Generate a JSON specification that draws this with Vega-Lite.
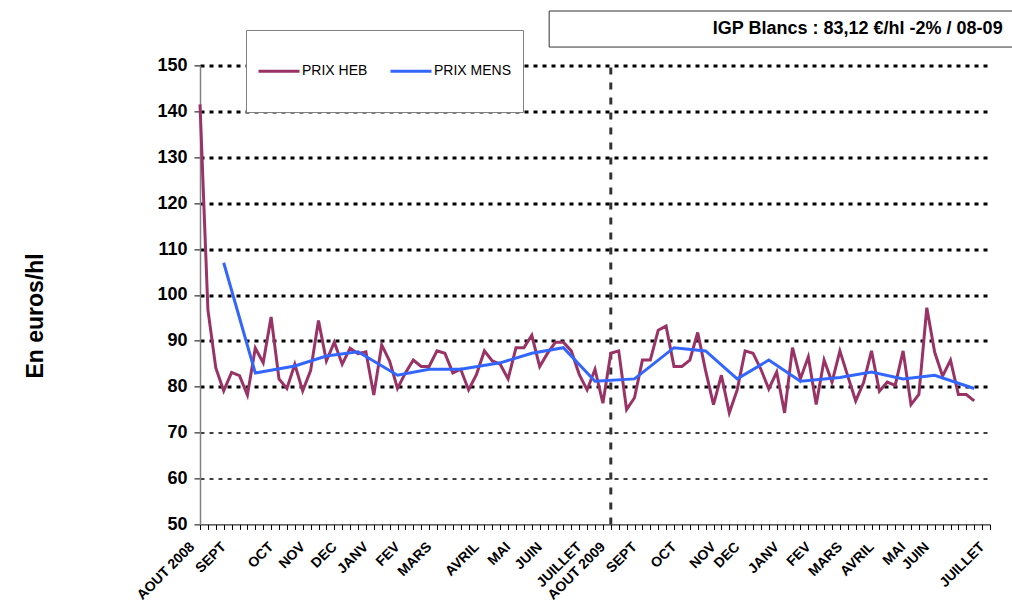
{
  "$schema": "https://vega.github.io/schema/vega-lite/v6.json",
  "width": 790,
  "height": 459,
  "autosize": {"type": "none"},
  "padding": {"left": 200, "top": 65.4, "right": 22, "bottom": 83.6},
  "background": "white",
  "config": {
    "font": "Liberation Sans",
    "view": {"stroke": null}
  },
  "datasets": {
    "prix": [
      {"semaine": 0, "serie": "PRIX HEB", "prix": 141.5},
      {"semaine": 1, "serie": "PRIX HEB", "prix": 96.8},
      {"semaine": 2, "serie": "PRIX HEB", "prix": 84.1},
      {"semaine": 3, "serie": "PRIX HEB", "prix": 79.1},
      {"semaine": 4, "serie": "PRIX HEB", "prix": 83.1},
      {"semaine": 5, "serie": "PRIX HEB", "prix": 82.4},
      {"semaine": 6, "serie": "PRIX HEB", "prix": 78.2},
      {"semaine": 7, "serie": "PRIX HEB", "prix": 88.4},
      {"semaine": 8, "serie": "PRIX HEB", "prix": 85.2},
      {"semaine": 9, "serie": "PRIX HEB", "prix": 95.2},
      {"semaine": 10, "serie": "PRIX HEB", "prix": 81.7},
      {"semaine": 11, "serie": "PRIX HEB", "prix": 79.6},
      {"semaine": 12, "serie": "PRIX HEB", "prix": 84.9},
      {"semaine": 13, "serie": "PRIX HEB", "prix": 79.1},
      {"semaine": 14, "serie": "PRIX HEB", "prix": 83.5},
      {"semaine": 15, "serie": "PRIX HEB", "prix": 94.4},
      {"semaine": 16, "serie": "PRIX HEB", "prix": 85.6},
      {"semaine": 17, "serie": "PRIX HEB", "prix": 89.7},
      {"semaine": 18, "serie": "PRIX HEB", "prix": 84.9},
      {"semaine": 19, "serie": "PRIX HEB", "prix": 88.4},
      {"semaine": 20, "serie": "PRIX HEB", "prix": 87.2},
      {"semaine": 21, "serie": "PRIX HEB", "prix": 87.6},
      {"semaine": 22, "serie": "PRIX HEB", "prix": 78.2},
      {"semaine": 23, "serie": "PRIX HEB", "prix": 89.1},
      {"semaine": 24, "serie": "PRIX HEB", "prix": 85.6},
      {"semaine": 25, "serie": "PRIX HEB", "prix": 79.6},
      {"semaine": 26, "serie": "PRIX HEB", "prix": 83},
      {"semaine": 27, "serie": "PRIX HEB", "prix": 85.8},
      {"semaine": 28, "serie": "PRIX HEB", "prix": 84.4},
      {"semaine": 29, "serie": "PRIX HEB", "prix": 84.4},
      {"semaine": 30, "serie": "PRIX HEB", "prix": 87.8},
      {"semaine": 31, "serie": "PRIX HEB", "prix": 87.3},
      {"semaine": 32, "serie": "PRIX HEB", "prix": 83},
      {"semaine": 33, "serie": "PRIX HEB", "prix": 83.8},
      {"semaine": 34, "serie": "PRIX HEB", "prix": 79.3},
      {"semaine": 35, "serie": "PRIX HEB", "prix": 82.7},
      {"semaine": 36, "serie": "PRIX HEB", "prix": 87.8},
      {"semaine": 37, "serie": "PRIX HEB", "prix": 85.6},
      {"semaine": 38, "serie": "PRIX HEB", "prix": 84.9},
      {"semaine": 39, "serie": "PRIX HEB", "prix": 81.7},
      {"semaine": 40, "serie": "PRIX HEB", "prix": 88.5},
      {"semaine": 41, "serie": "PRIX HEB", "prix": 88.5},
      {"semaine": 42, "serie": "PRIX HEB", "prix": 91.2},
      {"semaine": 43, "serie": "PRIX HEB", "prix": 84.4},
      {"semaine": 44, "serie": "PRIX HEB", "prix": 87.3},
      {"semaine": 45, "serie": "PRIX HEB", "prix": 89.7},
      {"semaine": 46, "serie": "PRIX HEB", "prix": 89.7},
      {"semaine": 47, "serie": "PRIX HEB", "prix": 87.8},
      {"semaine": 48, "serie": "PRIX HEB", "prix": 82.7},
      {"semaine": 49, "serie": "PRIX HEB", "prix": 79.3},
      {"semaine": 50, "serie": "PRIX HEB", "prix": 83.8},
      {"semaine": 51, "serie": "PRIX HEB", "prix": 76.4},
      {"semaine": 52, "serie": "PRIX HEB", "prix": 87.3},
      {"semaine": 53, "serie": "PRIX HEB", "prix": 87.8},
      {"semaine": 54, "serie": "PRIX HEB", "prix": 75},
      {"semaine": 55, "serie": "PRIX HEB", "prix": 77.6},
      {"semaine": 56, "serie": "PRIX HEB", "prix": 85.8},
      {"semaine": 57, "serie": "PRIX HEB", "prix": 85.8},
      {"semaine": 58, "serie": "PRIX HEB", "prix": 92.3},
      {"semaine": 59, "serie": "PRIX HEB", "prix": 93.2},
      {"semaine": 60, "serie": "PRIX HEB", "prix": 84.4},
      {"semaine": 61, "serie": "PRIX HEB", "prix": 84.4},
      {"semaine": 62, "serie": "PRIX HEB", "prix": 85.8},
      {"semaine": 63, "serie": "PRIX HEB", "prix": 91.8},
      {"semaine": 64, "serie": "PRIX HEB", "prix": 83.5},
      {"semaine": 65, "serie": "PRIX HEB", "prix": 76.1},
      {"semaine": 66, "serie": "PRIX HEB", "prix": 82.5},
      {"semaine": 67, "serie": "PRIX HEB", "prix": 74.3},
      {"semaine": 68, "serie": "PRIX HEB", "prix": 79.3},
      {"semaine": 69, "serie": "PRIX HEB", "prix": 87.8},
      {"semaine": 70, "serie": "PRIX HEB", "prix": 87.3},
      {"semaine": 71, "serie": "PRIX HEB", "prix": 83.8},
      {"semaine": 72, "serie": "PRIX HEB", "prix": 79.5},
      {"semaine": 73, "serie": "PRIX HEB", "prix": 83.2},
      {"semaine": 74, "serie": "PRIX HEB", "prix": 74.3},
      {"semaine": 75, "serie": "PRIX HEB", "prix": 88.5},
      {"semaine": 76, "serie": "PRIX HEB", "prix": 81.7},
      {"semaine": 77, "serie": "PRIX HEB", "prix": 86.5},
      {"semaine": 78, "serie": "PRIX HEB", "prix": 76.1},
      {"semaine": 79, "serie": "PRIX HEB", "prix": 85.8},
      {"semaine": 80, "serie": "PRIX HEB", "prix": 81},
      {"semaine": 81, "serie": "PRIX HEB", "prix": 87.8},
      {"semaine": 82, "serie": "PRIX HEB", "prix": 82.3},
      {"semaine": 83, "serie": "PRIX HEB", "prix": 76.9},
      {"semaine": 84, "serie": "PRIX HEB", "prix": 80.9},
      {"semaine": 85, "serie": "PRIX HEB", "prix": 87.8},
      {"semaine": 86, "serie": "PRIX HEB", "prix": 79},
      {"semaine": 87, "serie": "PRIX HEB", "prix": 81},
      {"semaine": 88, "serie": "PRIX HEB", "prix": 80.3},
      {"semaine": 89, "serie": "PRIX HEB", "prix": 87.8},
      {"semaine": 90, "serie": "PRIX HEB", "prix": 76.1},
      {"semaine": 91, "serie": "PRIX HEB", "prix": 78.3},
      {"semaine": 92, "serie": "PRIX HEB", "prix": 97.2},
      {"semaine": 93, "serie": "PRIX HEB", "prix": 87.5},
      {"semaine": 94, "serie": "PRIX HEB", "prix": 82.3},
      {"semaine": 95, "serie": "PRIX HEB", "prix": 85.8},
      {"semaine": 96, "serie": "PRIX HEB", "prix": 78.3},
      {"semaine": 97, "serie": "PRIX HEB", "prix": 78.3},
      {"semaine": 98, "serie": "PRIX HEB", "prix": 76.9},
      {"semaine": 3, "serie": "PRIX MENS", "prix": 107},
      {"semaine": 7, "serie": "PRIX MENS", "prix": 83},
      {"semaine": 12, "serie": "PRIX MENS", "prix": 84.5},
      {"semaine": 16, "serie": "PRIX MENS", "prix": 86.7},
      {"semaine": 20, "serie": "PRIX MENS", "prix": 87.6},
      {"semaine": 25, "serie": "PRIX MENS", "prix": 82.5},
      {"semaine": 29, "serie": "PRIX MENS", "prix": 83.8},
      {"semaine": 33, "serie": "PRIX MENS", "prix": 83.8},
      {"semaine": 38, "serie": "PRIX MENS", "prix": 85.2},
      {"semaine": 42, "serie": "PRIX MENS", "prix": 87.3},
      {"semaine": 46, "serie": "PRIX MENS", "prix": 88.5},
      {"semaine": 50, "serie": "PRIX MENS", "prix": 81.2},
      {"semaine": 55, "serie": "PRIX MENS", "prix": 81.7},
      {"semaine": 60, "serie": "PRIX MENS", "prix": 88.5},
      {"semaine": 64, "serie": "PRIX MENS", "prix": 87.8},
      {"semaine": 68, "serie": "PRIX MENS", "prix": 81.7},
      {"semaine": 72, "serie": "PRIX MENS", "prix": 85.8},
      {"semaine": 76, "serie": "PRIX MENS", "prix": 81.2},
      {"semaine": 81, "serie": "PRIX MENS", "prix": 82},
      {"semaine": 85, "serie": "PRIX MENS", "prix": 83.2},
      {"semaine": 89, "serie": "PRIX MENS", "prix": 81.7},
      {"semaine": 93, "serie": "PRIX MENS", "prix": 82.5},
      {"semaine": 98, "serie": "PRIX MENS", "prix": 79.6}
    ]
  },
  "layer": [
    {
      "data": {"values": [{"repere": "AOUT 2009"}]},
      "mark": {"type": "rule", "color": "#333333", "strokeWidth": 3, "strokeDash": [7, 8]},
      "encoding": {
        "x": {"datum": 52, "type": "quantitative"},
        "y": {"datum": 50, "type": "quantitative"},
        "y2": {"datum": 150}
      }
    },
    {
      "data": {"name": "prix"},
      "mark": {"type": "line", "strokeWidth": 3, "strokeJoin": "miter", "interpolate": "linear"},
      "encoding": {
        "x": {
          "field": "semaine",
          "type": "quantitative",
          "scale": {"domain": [0, 100], "nice": false, "zero": false},
          "axis": {
            "title": null,
            "grid": false,
            "tickCount": 200,
            "values": [0,1,2,3,4,5,6,7,8,9,10,11,12,13,14,15,16,17,18,19,20,21,22,23,24,25,26,27,28,29,30,31,32,33,34,35,36,37,38,39,40,41,42,43,44,45,46,47,48,49,50,51,52,53,54,55,56,57,58,59,60,61,62,63,64,65,66,67,68,69,70,71,72,73,74,75,76,77,78,79,80,81,82,83,84,85,86,87,88,89,90,91,92,93,94,95,96,97,98,99,100],
            "labelExpr": "indexof([0,4,10,14,18,22,26,30,36,40,44,49,52,56,61,66,69,74,78,82,86,90,93,100], datum.value) < 0 ? '' : ['AOUT 2008','SEPT','OCT','NOV','DEC','JANV','FEV','MARS','AVRIL','MAI','JUIN','JUILLET','AOUT 2009','SEPT','OCT','NOV','DEC','JANV','FEV','MARS','AVRIL','MAI','JUIN','JUILLET'][indexof([0,4,10,14,18,22,26,30,36,40,44,49,52,56,61,66,69,74,78,82,86,90,93,100], datum.value)]",
            "labelAngle": -45,
            "labelAlign": "right",
            "labelBaseline": "middle",
            "labelPadding": 15,
            "labelOffset": -8,
            "labelFontSize": 14,
            "labelFontWeight": "bold",
            "labelColor": "#000000",
            "labelOverlap": false,
            "labelFlush": false,
            "labelBound": false,
            "domainColor": "#000000",
            "domainWidth": 1,
            "tickColor": "#000000",
            "tickSize": 5,
            "tickWidth": 1
          }
        },
        "y": {
          "field": "prix",
          "type": "quantitative",
          "scale": {"domain": [50, 150], "nice": false, "zero": false},
          "axis": {
            "title": "En euros/hl",
            "titleFontSize": 23,
            "titleFontWeight": "bold",
            "titleColor": "#000000",
            "titleX": -165,
            "titleY": 250,
            "titleAngle": -90,
            "titleAlign": "center",
            "titleBaseline": "middle",
            "values": [50, 60, 70, 80, 90, 100, 110, 120, 130, 140, 150],
            "labelFontSize": 18,
            "labelFontWeight": "bold",
            "labelColor": "#000000",
            "labelPadding": 7,
            "domainColor": "#808080",
            "domainWidth": 1.5,
            "tickColor": "#000000",
            "tickSize": 6,
            "tickWidth": 1,
            "grid": true,
            "gridColor": "#000000",
            "gridDash": [4, 5],
            "gridWidth": {"condition": {"test": "datum.value < 75", "value": 1.5}, "value": 3},
            "gridOpacity": {"condition": {"test": "datum.value == 50", "value": 0}, "value": 1}
          }
        },
        "color": {
          "field": "serie",
          "type": "nominal",
          "scale": {"domain": ["PRIX HEB", "PRIX MENS"], "range": ["#993366", "#3366FF"]},
          "legend": {
            "title": " ",
            "titleFontSize": 5,
            "titlePadding": 3,
            "orient": "none",
            "legendX": 46,
            "legendY": -35.4,
            "direction": "horizontal",
            "symbolType": "M-1,-1M-1,0L1,0M1,1.15",
            "symbolSize": 1681,
            "symbolStrokeWidth": 3,
            "labelFontSize": 14,
            "labelColor": "#000000",
            "labelOffset": 1,
            "columnPadding": 16,
            "padding": 11,
            "strokeColor": "#808080",
            "fillColor": "#FFFFFF"
          }
        }
      }
    },
    {
      "data": {"values": [{"cadre": "titre"}]},
      "mark": {"type": "rect", "fill": "#FFFFFF", "stroke": "#333333", "strokeWidth": 1},
      "encoding": {
        "x": {"datum": 44.2, "type": "quantitative"},
        "x2": {"datum": 104},
        "y": {"datum": 154.0, "type": "quantitative"},
        "y2": {"datum": 161.85}
      }
    },
    {
      "data": {"values": [{"titre": "IGP Blancs : 83,12 €/hl -2% / 08-09"}]},
      "mark": {"type": "text", "align": "right", "baseline": "middle", "fontSize": 18, "fontWeight": "bold", "color": "#000000"},
      "encoding": {
        "x": {"datum": 101.6, "type": "quantitative"},
        "y": {"datum": 157.9, "type": "quantitative"},
        "text": {"field": "titre", "type": "nominal"}
      }
    }
  ]
}
